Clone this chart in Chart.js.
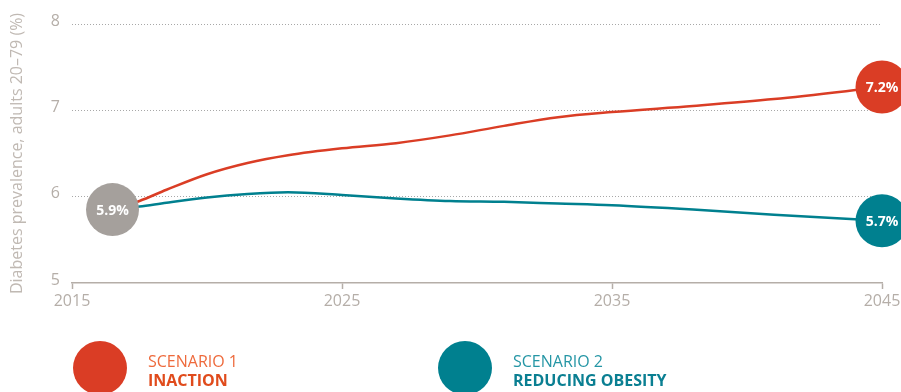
<!DOCTYPE html>
<html>
<head>
<meta charset="utf-8">
<script src="https://cdn.jsdelivr.net/npm/chart.js@4.4.1/dist/chart.umd.min.js"></script>
<style>
    html, body { margin: 0; padding: 0; background: #fff; }
    #wrap { position: relative; width: 901px; height: 392px; overflow: hidden; font-family: 'Open Sans', sans-serif; }
    #chart { position: absolute; left: 0; top: 0; }
    .leg { position: absolute; top: 341px; }
    .leg .dot { position: absolute; left: 0; top: 0; width: 54px; height: 54px; border-radius: 50%; }
    .leg .txt { position: absolute; left: 75px; top: 11px; font-size: 16px; line-height: 19px; white-space: nowrap; }
    .leg .txt b { font-weight: 700; }
</style>
</head>
<body>
<div id="wrap">
    <canvas id="chart" width="901" height="392"></canvas>
</div>
<script>
// data
const years = [2016.5, 2017.5, 2018.5, 2020, 2021.5, 2023, 2025, 2027, 2029, 2031, 2033, 2035, 2038, 2041, 2045];
const inaction = [5.85, 5.95, 6.08, 6.26, 6.39, 6.48, 6.56, 6.62, 6.71, 6.82, 6.92, 6.98, 7.05, 7.13, 7.27];
const reducingObesity = [5.85, 5.885, 5.93, 5.99, 6.03, 6.05, 6.02, 5.98, 5.95, 5.94, 5.92, 5.90, 5.85, 5.79, 5.72];

const xTicks = [2015, 2025, 2035, 2045];
const yTicks = [5, 6, 7, 8];

const seriesNames = ['SCENARIO 1', 'SCENARIO 2'];
const seriesTitles = ['INACTION', 'REDUCING OBESITY'];
const seriesColors = ['#da3d25', '#00808f'];
const titleColors = [['#ee6a3c', '#e04b1c'], ['#2596a5', '#0a7f92']];

const markerYears = [2016.5, 2045, 2045];
const markerValues = [5.85, 7.27, 5.72];
const markerLabels = ['5.9%', '7.2%', '5.7%'];
const markerColors = ['#a5a09c', '#da3d25', '#00808f'];

const axisGrey = '#b5aea8';

function toPoints(xs, ys) {
    return xs.map((x, i) => ({x: x, y: ys[i]}));
}

const markerLabelPlugin = {
    id: 'markerLabels',
    afterDatasetsDraw(chart) {
        const meta = chart.getDatasetMeta(0);
        const ctx = chart.ctx;
        ctx.save();
        ctx.fillStyle = '#fff';
        ctx.font = 'bold 14px "Open Sans"';
        ctx.textAlign = 'center';
        ctx.textBaseline = 'middle';
        meta.data.forEach((pt, i) => {
            ctx.fillText(markerLabels[i], pt.x, pt.y + 1);
        });
        ctx.restore();
    }
};

const ctx = document.getElementById('chart').getContext('2d');
new Chart(ctx, {
    type: 'line',
    data: {
        datasets: [{
            label: 'markers',
            data: toPoints(markerYears, markerValues),
            showLine: false,
            pointRadius: 26.5,
            pointHoverRadius: 26.5,
            pointBackgroundColor: markerColors,
            pointBorderWidth: 0,
            clip: false,
            order: 0
        }, {
            label: seriesTitles[0],
            data: toPoints(years, inaction),
            borderColor: seriesColors[0],
            borderWidth: 2.5,
            pointRadius: 0,
            cubicInterpolationMode: 'monotone',
            order: 1
        }, {
            label: seriesTitles[1],
            data: toPoints(years, reducingObesity),
            borderColor: seriesColors[1],
            borderWidth: 2.5,
            pointRadius: 0,
            cubicInterpolationMode: 'monotone',
            order: 1
        }]
    },
    options: {
        responsive: false,
        animation: false,
        events: [],
        layout: {autoPadding: false, padding: {top: 24, right: 19, left: 0, bottom: 0}},
        plugins: {legend: {display: false}, tooltip: {enabled: false}},
        scales: {
            x: {
                type: 'linear',
                min: 2015,
                max: 2045,
                afterFit: (scale) => {
                    scale.height = 109;
                    scale.paddingLeft = 0;
                    scale.paddingRight = 0;
                },
                afterBuildTicks: (scale) => { scale.ticks = xTicks.map(v => ({value: v})); },
                ticks: {
                    color: axisGrey,
                    font: {family: 'Open Sans', size: 16},
                    padding: 3,
                    maxRotation: 0,
                    callback: (v) => String(v)
                },
                grid: {drawOnChartArea: false, drawTicks: true, tickLength: 6, tickColor: axisGrey, tickWidth: 1.5},
                border: {display: true, color: axisGrey, width: 1.5}
            },
            y: {
                min: 5,
                max: 8,
                afterFit: (scale) => {
                    scale.width = 72;
                    scale.paddingTop = 0;
                    scale.paddingBottom = 0;
                },
                afterBuildTicks: (scale) => { scale.ticks = yTicks.map(v => ({value: v})); },
                ticks: {
                    color: axisGrey,
                    font: {family: 'Open Sans', size: 16},
                    padding: 12,
                    labelOffset: -3
                },
                grid: {
                    color: (c) => c.tick && c.tick.value === 5 ? 'rgba(0,0,0,0)' : '#a8a8a8',
                    lineWidth: 1,
                    drawTicks: false
                },
                border: {display: false, dash: [1, 2]},
                title: {
                    display: true,
                    text: 'Diabetes prevalence, adults 20–79 (%)',
                    color: '#c0b9b3',
                    font: {family: 'Open Sans', size: 16},
                    padding: {top: 8, bottom: 0}
                }
            }
        }
    },
    plugins: [markerLabelPlugin]
});

// legend under the chart
const legendLeft = [73, 438];
const wrap = document.getElementById('wrap');
seriesNames.forEach((name, i) => {
    const item = document.createElement('div');
    item.className = 'leg';
    item.style.left = legendLeft[i] + 'px';
    item.innerHTML = '<div class="dot" style="background:' + seriesColors[i] + '"></div>' +
        '<div class="txt"><span style="color:' + titleColors[i][0] + '">' + name + '</span><br>' +
        '<b style="color:' + titleColors[i][1] + '">' + seriesTitles[i] + '</b></div>';
    wrap.appendChild(item);
});
</script>
</body>
</html>
